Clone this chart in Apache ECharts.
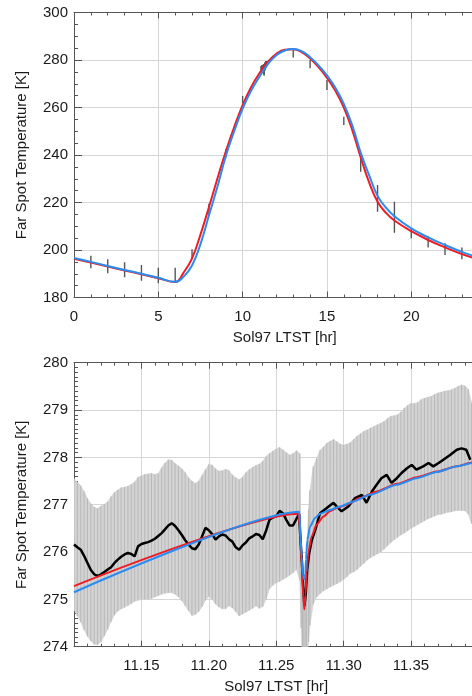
<!DOCTYPE html>
<html>
<head>
<meta charset="utf-8">
<title>Far Spot Temperature</title>
<script src="https://cdn.jsdelivr.net/npm/echarts@6.0.0/dist/echarts.min.js"></script>
<style>
html, body { margin: 0; padding: 0; background: #fff; }
#main { width: 472px; height: 696px; }
</style>
</head>
<body>
<div id="main"></div>
<script>
// ---- top panel: full sol ----
var curveHour = [0, 1, 2, 3, 4, 5, 6, 6.5, 7, 7.5, 8, 8.5, 9, 9.5, 10, 10.5, 11, 11.5, 12, 12.5,
    13, 13.5, 14, 14.5, 15, 15.5, 16, 16.5, 17, 17.5, 18, 18.5, 19, 20, 21, 22, 23, 24];
var curveRed = [196.3, 194.7, 193.0, 191.4, 189.8, 188.1, 186.5, 190.5, 196.5, 206.5, 218.0, 230.0, 241.5, 251.8,
    261.0, 268.5, 274.5, 279.3, 282.6, 284.3, 284.5, 283.3, 280.6, 277.0, 272.5, 267.0, 260.0, 250.5,
    239.0, 228.5, 220.3, 215.6, 212.4, 207.9, 204.2, 201.1, 198.3, 196.0];
var curveBlue = [196.6, 195.0, 193.3, 191.6, 190.0, 188.3, 186.6, 188.8, 193.5, 202.5, 214.5, 226.5, 239.5, 250.0,
    259.5, 267.0, 273.0, 278.3, 282.0, 284.0, 284.6, 283.7, 281.2, 277.7, 273.5, 268.3, 261.5, 252.5,
    241.0, 231.5, 222.8, 217.8, 214.2, 209.1, 205.3, 202.1, 199.2, 196.8];
var obsHour = [1, 2, 3, 4, 5, 6, 7, 8, 9, 10, 13, 14, 15, 16, 17, 18, 19, 20, 21, 22, 23];
var obsLow  = [192.3, 190.2, 188.5, 187.1, 186.0, 186.7, 196.1, 214.5, 239.0, 261.8, 281.1, 276.5, 267.4,
    252.6, 233.0, 216.1, 207.3, 204.9, 201.1, 197.9, 196.1];
var obsHigh = [197.6, 196.1, 194.8, 193.7, 192.5, 192.5, 200.3, 219.5, 242.5, 264.8, 284.2, 280.0, 271.6,
    256.1, 240.0, 227.4, 220.3, 209.1, 205.9, 202.8, 201.1];

// ---- bottom panel: 11.10 - 11.40 hr ----
var bandTime = [11.1000, 11.1025, 11.1050, 11.1075, 11.1100, 11.1125, 11.1150, 11.1175, 11.1200, 11.1225,
    11.1250, 11.1275, 11.1300, 11.1325, 11.1350, 11.1375, 11.1400, 11.1425, 11.1450, 11.1475,
    11.1500, 11.1525, 11.1550, 11.1575, 11.1600, 11.1625, 11.1650, 11.1675, 11.1700, 11.1725,
    11.1750, 11.1775, 11.1800, 11.1825, 11.1850, 11.1875, 11.1900, 11.1925, 11.1950, 11.1975,
    11.2000, 11.2025, 11.2050, 11.2075, 11.2100, 11.2125, 11.2150, 11.2175, 11.2200, 11.2225,
    11.2250, 11.2275, 11.2300, 11.2325, 11.2350, 11.2375, 11.2400, 11.2425, 11.2450, 11.2475,
    11.2500, 11.2525, 11.2550, 11.2575, 11.2600, 11.2625, 11.2650, 11.2675,
    11.2685, 11.2695, 11.2705, 11.2715, 11.2725, 11.2740,
    11.2750, 11.2775, 11.2800, 11.2825, 11.2850, 11.2875, 11.2900, 11.2925, 11.2950, 11.2975,
    11.3000, 11.3025, 11.3050, 11.3075, 11.3100, 11.3125, 11.3150, 11.3175, 11.3200, 11.3225,
    11.3250, 11.3275, 11.3300, 11.3325, 11.3350, 11.3375, 11.3400, 11.3425, 11.3450, 11.3475,
    11.3500, 11.3525, 11.3550, 11.3575, 11.3600, 11.3625, 11.3650, 11.3675, 11.3700, 11.3725,
    11.3750, 11.3775, 11.3800, 11.3825, 11.3850, 11.3875, 11.3900, 11.3925, 11.3950];
var bandHigh = [277.55, 277.48, 277.40, 277.28, 277.13, 277.02, 276.95, 276.92, 276.97, 277.01,
    277.06, 277.17, 277.26, 277.31, 277.36, 277.37, 277.39, 277.43, 277.48, 277.58,
    277.61, 277.64, 277.65, 277.66, 277.64, 277.66, 277.78, 277.88, 277.95, 277.94,
    277.87, 277.82, 277.76, 277.68, 277.57, 277.50, 277.45, 277.50, 277.62, 277.74,
    277.85, 277.84, 277.76, 277.71, 277.72, 277.75, 277.72, 277.63, 277.57, 277.53,
    277.58, 277.68, 277.74, 277.79, 277.83, 277.86, 277.92, 278.02, 278.08, 278.13,
    278.18, 278.21, 278.16, 278.10, 278.05, 278.08, 278.14, 278.08,
    276.2, 275.4, 275.2, 275.4, 276.0, 276.9,
    277.3, 277.8, 277.98, 278.15, 278.22, 278.30, 278.34, 278.38, 278.33, 278.28,
    278.26, 278.28, 278.31, 278.38, 278.45, 278.50, 278.55, 278.58, 278.62, 278.65,
    278.69, 278.72, 278.76, 278.82, 278.87, 278.88, 278.90, 278.96, 279.04, 279.10,
    279.14, 279.14, 279.16, 279.22, 279.25, 279.27, 279.29, 279.33, 279.36, 279.38,
    279.40, 279.41, 279.43, 279.46, 279.50, 279.53, 279.51, 279.44, 279.15];
var bandLow = [274.79, 274.65, 274.52, 274.36, 274.22, 274.12, 274.05, 274.04, 274.10, 274.23,
    274.37, 274.53, 274.67, 274.75, 274.80, 274.83, 274.87, 274.91, 274.96, 274.98,
    275.00, 275.00, 275.00, 275.02, 275.05, 275.08, 275.11, 275.13, 275.14, 275.14,
    275.11, 275.05, 274.97, 274.87, 274.76, 274.66, 274.68, 274.74, 274.85, 274.98,
    275.06, 275.00, 274.90, 274.84, 274.80, 274.80, 274.86, 274.82, 274.74, 274.65,
    274.69, 274.73, 274.77, 274.81, 274.86, 274.81, 274.85, 275.00, 275.22, 275.30,
    275.35, 275.38, 275.42, 275.46, 275.51, 275.56, 275.63, 275.40,
    274.4, 273.6, 273.5, 273.5, 273.6, 274.1,
    274.45, 274.90, 275.05, 275.12, 275.18, 275.22, 275.26, 275.30, 275.33, 275.37,
    275.42, 275.48, 275.55, 275.58, 275.63, 275.70, 275.76, 275.83, 275.88, 275.92,
    275.96, 276.00, 276.06, 276.13, 276.20, 276.26, 276.31, 276.36, 276.40, 276.45,
    276.50, 276.54, 276.58, 276.62, 276.66, 276.70, 276.73, 276.76, 276.79, 276.80,
    276.82, 276.84, 276.85, 276.87, 276.88, 276.88, 276.87, 276.80, 276.60];
var meanTime = [11.1000, 11.1025, 11.1050, 11.1075, 11.1100, 11.1125, 11.1150, 11.1175, 11.1200, 11.1225,
    11.1250, 11.1275, 11.1300, 11.1325, 11.1350, 11.1375, 11.1400, 11.1425, 11.1450, 11.1475,
    11.1500, 11.1525, 11.1550, 11.1575, 11.1600, 11.1625, 11.1650, 11.1675, 11.1700, 11.1725,
    11.1750, 11.1775, 11.1800, 11.1825, 11.1850, 11.1875, 11.1900, 11.1925, 11.1950, 11.1975,
    11.2000, 11.2025, 11.2050, 11.2075, 11.2100, 11.2125, 11.2150, 11.2175, 11.2200, 11.2225,
    11.2250, 11.2275, 11.2300, 11.2325, 11.2350, 11.2375, 11.2400, 11.2425, 11.2450, 11.2475,
    11.2500, 11.2525, 11.2550, 11.2575, 11.2600, 11.2625, 11.2650, 11.2670, 11.2680, 11.2690,
    11.2700, 11.2710, 11.2720, 11.2730, 11.2745, 11.2765, 11.2790, 11.2825, 11.2875, 11.2925,
    11.2950, 11.2985, 11.3035, 11.3085, 11.3135, 11.3170, 11.3210, 11.3245, 11.3280, 11.3320,
    11.3355, 11.3395, 11.3430, 11.3470, 11.3505, 11.3540, 11.3590, 11.3630, 11.3665, 11.3705,
    11.3740, 11.3790, 11.3840, 11.3875, 11.3910, 11.3940];
var meanTemp = [276.16, 276.10, 276.05, 275.92, 275.77, 275.62, 275.53, 275.49, 275.53, 275.58,
    275.63, 275.68, 275.77, 275.84, 275.90, 275.95, 275.98, 275.96, 275.91, 276.12,
    276.17, 276.19, 276.21, 276.24, 276.28, 276.34, 276.40, 276.48, 276.56, 276.61,
    276.55, 276.46, 276.36, 276.25, 276.16, 276.08, 276.06, 276.16, 276.33, 276.51,
    276.46, 276.38, 276.26, 276.33, 276.37, 276.35, 276.27, 276.22, 276.10, 276.05,
    276.14, 276.20, 276.29, 276.33, 276.38, 276.36, 276.27, 276.45, 276.68, 276.73,
    276.76, 276.87, 276.82, 276.68, 276.56, 276.56, 276.70, 276.80, 276.26, 275.84,
    275.28, 274.86, 275.14, 275.63, 275.98, 276.26, 276.47, 276.82, 276.93, 277.04,
    276.96, 276.86, 276.96, 277.14, 277.21, 277.04, 277.28, 277.42, 277.56, 277.63,
    277.46, 277.56, 277.67, 277.77, 277.84, 277.74, 277.81, 277.88, 277.81, 277.88,
    277.95, 278.05, 278.16, 278.19, 278.16, 277.95];
var fitTimeRed = [11.100, 11.2664, 11.2675, 11.2681, 11.2689, 11.2701, 11.2709, 11.2717, 11.2726, 11.2738,
    11.2763, 11.2800, 11.2850, 11.2899, 11.2949, 11.3023, 11.3122, 11.3245, 11.3394, 11.3542,
    11.3691, 11.3839, 11.3953, 11.400];
var fitRed = [275.28, 276.81, 276.55, 276.10, 275.75, 275.05, 274.79, 275.10, 275.56, 275.98,
    276.33, 276.58, 276.75, 276.86, 276.93, 277.00, 277.14, 277.28, 277.44, 277.58,
    277.70, 277.81, 277.89, 277.92];
var fitTimeBlue = [11.100, 11.2672, 11.2681, 11.2689, 11.2699, 11.2709, 11.2716, 11.2721, 11.2731, 11.2751,
    11.2788, 11.2825, 11.2899, 11.2973, 11.3072, 11.3196, 11.3394, 11.3542, 11.3691, 11.3839,
    11.3953, 11.400];
var fitBlue = [275.15, 276.85, 276.30, 275.90, 275.50, 275.42, 275.55, 275.84, 276.26, 276.54,
    276.72, 276.81, 276.89, 276.96, 277.07, 277.21, 277.42, 277.56, 277.69, 277.81,
    277.88, 277.91];

var FONT = 'Liberation Sans';
var TXT = '#1a1a1a';
var FRAME = '#555';
var RED = '#ee1c25';
var BLUE = '#2a8cf0';

function zip(xs, ys) {
    return xs.map(function (x, i) { return [x, ys[i]]; });
}

function errBar(color, width) {
    return function (params, api) {
        var p1 = api.coord([api.value(0), api.value(1)]);
        var p2 = api.coord([api.value(0), api.value(2)]);
        return {
            type: 'line',
            shape: { x1: p1[0], y1: p1[1], x2: p2[0], y2: p2[1] },
            style: { stroke: color, lineWidth: width }
        };
    };
}

function axisX(grid, pos, min, max, step, showLabel, name, fmt) {
    return {
        type: 'value', gridIndex: grid, position: pos,
        min: min, max: max, interval: step,
        name: name || '', nameLocation: 'middle', nameGap: 33,
        nameTextStyle: { fontFamily: FONT, fontSize: 15, color: TXT },
        axisLine: { show: true, onZero: false, lineStyle: { color: FRAME, width: 1 } },
        axisTick: { show: true, inside: true, length: 6, lineStyle: { color: FRAME } },
        minorTick: { show: true, splitNumber: 5, length: 3, lineStyle: { color: FRAME } },
        axisLabel: {
            show: showLabel, fontFamily: FONT, fontSize: 15, color: TXT, margin: 12,
            showMinLabel: grid === 0, showMaxLabel: false, formatter: fmt
        },
        splitLine: { show: pos === 'bottom', lineStyle: { color: '#d6d6d6', width: 1 } }
    };
}

function axisY(grid, min, max, step, minorSplit) {
    return {
        type: 'value', gridIndex: grid, position: 'left',
        min: min, max: max, interval: step,
        name: 'Far Spot Temperature [K]', nameLocation: 'middle', nameGap: 45,
        nameTextStyle: { fontFamily: FONT, fontSize: 15, color: TXT },
        axisLine: { show: true, onZero: false, lineStyle: { color: FRAME, width: 1 } },
        axisTick: { show: true, inside: true, length: 8, lineStyle: { color: FRAME } },
        minorTick: { show: true, splitNumber: minorSplit, length: 4, lineStyle: { color: FRAME } },
        axisLabel: { fontFamily: FONT, fontSize: 15, color: TXT, margin: 6 },
        splitLine: { show: true, lineStyle: { color: '#d6d6d6', width: 1 } }
    };
}

var chart = echarts.init(document.getElementById('main'), null, { renderer: 'canvas' });

var bandItems = bandTime.map(function (t, i) {
    var j = Math.min(i + 1, bandTime.length - 1);
    return [t, bandLow[i], bandHigh[i], bandTime[j], bandLow[j], bandHigh[j]];
});

var option = {
    animation: false,
    backgroundColor: '#fff',
    grid: [
        { left: 74, top: 12.5, width: 421.6, height: 285, outerBoundsMode: 'none', containLabel: false },
        { left: 74, top: 362.7, width: 404.4, height: 284, outerBoundsMode: 'none', containLabel: false }
    ],
    xAxis: [
        axisX(0, 'bottom', 0, 25, 5, true, 'Sol97 LTST [hr]'),
        axisX(0, 'top', 0, 25, 5, false),
        axisX(1, 'bottom', 11.10, 11.40, 0.05, true, 'Sol97 LTST [hr]', function (v) { return v.toFixed(2); }),
        axisX(1, 'top', 11.10, 11.40, 0.05, false)
    ],
    yAxis: [
        axisY(0, 180, 300, 20, 4),
        axisY(1, 274, 280, 1, 10)
    ],
    series: [
        {
            type: 'custom', xAxisIndex: 0, yAxisIndex: 0, silent: true, clip: true,
            renderItem: errBar('#555', 1.4),
            encode: { x: 0, y: [1, 2] },
            data: obsHour.map(function (h, i) { return [h, obsLow[i], obsHigh[i]]; })
        },
        {
            type: 'custom', xAxisIndex: 0, yAxisIndex: 0, silent: true, clip: true,
            renderItem: errBar('#5a5a5a', 1),
            encode: { x: 0, y: [1, 2] },
            data: bandTime.map(function (t, i) { return [t, bandLow[i], bandHigh[i]]; })
        },
        {
            type: 'line', xAxisIndex: 0, yAxisIndex: 0, silent: true,
            showSymbol: false, smooth: 0.45,
            lineStyle: { color: RED, width: 2 },
            data: zip(curveHour, curveRed)
        },
        {
            type: 'line', xAxisIndex: 0, yAxisIndex: 0, silent: true,
            showSymbol: false, smooth: 0.45,
            lineStyle: { color: BLUE, width: 2 },
            data: zip(curveHour, curveBlue)
        },
        {
            type: 'custom', xAxisIndex: 2, yAxisIndex: 1, silent: true, clip: true,
            encode: { x: [0, 3], y: [1, 2, 4, 5] },
            renderItem: function (params, api) {
                var a = api.coord([api.value(0), api.value(1)]);
                var b = api.coord([api.value(0), api.value(2)]);
                var c = api.coord([api.value(3), api.value(5)]);
                var d = api.coord([api.value(3), api.value(4)]);
                return {
                    type: 'group',
                    children: [
                        { type: 'polygon', shape: { points: [a, b, c, d] },
                          style: { fill: '#d4d4d4', stroke: '#d4d4d4', lineWidth: 0.6 } },
                        { type: 'line', shape: { x1: a[0], y1: a[1], x2: b[0], y2: b[1] },
                          style: { stroke: '#b4b4b4', lineWidth: 0.9 } }
                    ]
                };
            },
            data: bandItems
        },
        {
            type: 'line', xAxisIndex: 2, yAxisIndex: 1, silent: true,
            showSymbol: false,
            lineStyle: { color: '#000', width: 2.5 },
            data: zip(meanTime, meanTemp)
        },
        {
            type: 'line', xAxisIndex: 2, yAxisIndex: 1, silent: true,
            showSymbol: false, smooth: 0.2, smoothMonotone: 'x',
            lineStyle: { color: RED, width: 2 },
            data: zip(fitTimeRed, fitRed)
        },
        {
            type: 'line', xAxisIndex: 2, yAxisIndex: 1, silent: true,
            showSymbol: false, smooth: 0.2, smoothMonotone: 'x',
            lineStyle: { color: BLUE, width: 2 },
            data: zip(fitTimeBlue, fitBlue)
        }
    ]
};

chart.setOption(option);
</script>
</body>
</html>
